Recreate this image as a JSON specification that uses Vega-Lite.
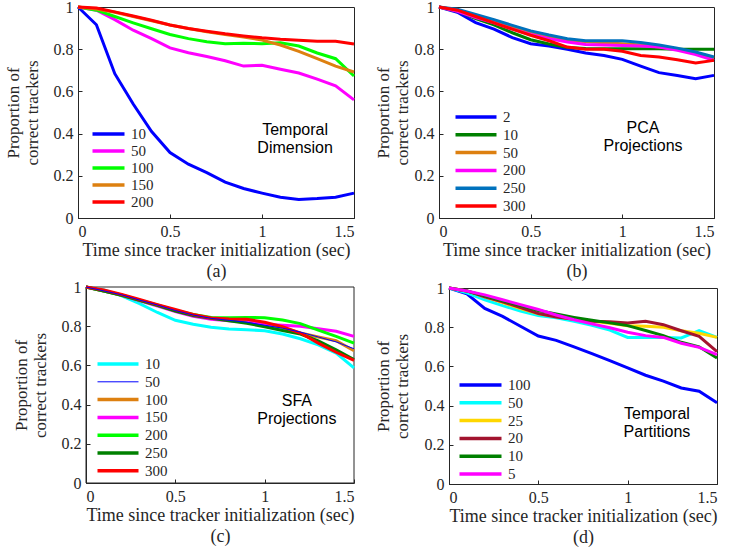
{
  "$schema": "https://vega.github.io/schema/vega-lite/v6.json",
  "padding": {"left": 3, "top": -2, "right": 5, "bottom": 5},
  "columns": 2,
  "align": "none",
  "spacing": {"row": -2, "column": 12},
  "resolve": {"scale": {"color": "independent"}, "legend": {"color": "independent"}},
  "config": {
    "font": "Liberation Serif",
    "view": {"stroke": "#262626", "strokeWidth": 1},
    "axis": {
      "grid": false,
      "labelOverlap": false,
      "labelSeparation": 0,
      "domainColor": "#262626",
      "tickColor": "#262626",
      "tickSize": -4,
      "labelPadding": 9,
      "labelFont": "Liberation Serif",
      "labelFontSize": 16,
      "labelColor": "#262626",
      "titleFont": "Liberation Serif",
      "titleFontSize": 17,
      "titleFontWeight": "normal",
      "titleColor": "#262626"
    },
    "axisX": {"titleFontSize": 18, "titleLineHeight": 21},
    "legend": {
      "orient": "none",
      "title": null,
      "symbolStrokeWidth": 3.5,
      "symbolSize": 100,
      "labelFont": "Liberation Serif",
      "labelFontSize": 15,
      "labelColor": "#262626",
      "padding": 0
    }
  },
  "datasets": {
    "a": [
      {"s":"10","t":0,"v":1},{"s":"10","t":0.1,"v":0.916},{"s":"10","t":0.2,"v":0.684},{"s":"10","t":0.3,"v":0.54},{"s":"10","t":0.4,"v":0.41},{"s":"10","t":0.5,"v":0.31},{"s":"10","t":0.6,"v":0.255},{"s":"10","t":0.7,"v":0.215},{"s":"10","t":0.8,"v":0.17},{"s":"10","t":0.9,"v":0.14},{"s":"10","t":1.0,"v":0.118},{"s":"10","t":1.1,"v":0.098},{"s":"10","t":1.2,"v":0.088},{"s":"10","t":1.3,"v":0.092},{"s":"10","t":1.4,"v":0.098},{"s":"10","t":1.5,"v":0.118},
      {"s":"50","t":0,"v":1},{"s":"50","t":0.1,"v":0.985},{"s":"50","t":0.2,"v":0.94},{"s":"50","t":0.3,"v":0.89},{"s":"50","t":0.4,"v":0.85},{"s":"50","t":0.5,"v":0.806},{"s":"50","t":0.6,"v":0.783},{"s":"50","t":0.7,"v":0.765},{"s":"50","t":0.8,"v":0.745},{"s":"50","t":0.9,"v":0.72},{"s":"50","t":1.0,"v":0.724},{"s":"50","t":1.1,"v":0.705},{"s":"50","t":1.2,"v":0.687},{"s":"50","t":1.3,"v":0.658},{"s":"50","t":1.4,"v":0.626},{"s":"50","t":1.5,"v":0.56},
      {"s":"100","t":0,"v":1},{"s":"100","t":0.1,"v":0.985},{"s":"100","t":0.2,"v":0.955},{"s":"100","t":0.3,"v":0.925},{"s":"100","t":0.4,"v":0.897},{"s":"100","t":0.5,"v":0.87},{"s":"100","t":0.6,"v":0.85},{"s":"100","t":0.7,"v":0.835},{"s":"100","t":0.8,"v":0.826},{"s":"100","t":0.9,"v":0.828},{"s":"100","t":1.0,"v":0.826},{"s":"100","t":1.1,"v":0.83},{"s":"100","t":1.2,"v":0.815},{"s":"100","t":1.3,"v":0.782},{"s":"100","t":1.4,"v":0.755},{"s":"100","t":1.5,"v":0.673},
      {"s":"150","t":0,"v":1},{"s":"150","t":0.1,"v":0.99},{"s":"150","t":0.2,"v":0.975},{"s":"150","t":0.3,"v":0.955},{"s":"150","t":0.4,"v":0.935},{"s":"150","t":0.5,"v":0.915},{"s":"150","t":0.6,"v":0.898},{"s":"150","t":0.7,"v":0.883},{"s":"150","t":0.8,"v":0.87},{"s":"150","t":0.9,"v":0.858},{"s":"150","t":1.0,"v":0.843},{"s":"150","t":1.1,"v":0.82},{"s":"150","t":1.2,"v":0.79},{"s":"150","t":1.3,"v":0.755},{"s":"150","t":1.4,"v":0.72},{"s":"150","t":1.5,"v":0.692},
      {"s":"200","t":0,"v":1},{"s":"200","t":0.1,"v":0.995},{"s":"200","t":0.2,"v":0.977},{"s":"200","t":0.3,"v":0.957},{"s":"200","t":0.4,"v":0.937},{"s":"200","t":0.5,"v":0.915},{"s":"200","t":0.6,"v":0.898},{"s":"200","t":0.7,"v":0.885},{"s":"200","t":0.8,"v":0.873},{"s":"200","t":0.9,"v":0.863},{"s":"200","t":1.0,"v":0.854},{"s":"200","t":1.1,"v":0.847},{"s":"200","t":1.2,"v":0.843},{"s":"200","t":1.3,"v":0.838},{"s":"200","t":1.4,"v":0.838},{"s":"200","t":1.5,"v":0.825}
    ],
    "b": [
      {"s":"2","t":0,"v":1},{"s":"2","t":0.1,"v":0.975},{"s":"2","t":0.2,"v":0.926},{"s":"2","t":0.3,"v":0.895},{"s":"2","t":0.4,"v":0.855},{"s":"2","t":0.5,"v":0.826},{"s":"2","t":0.6,"v":0.815},{"s":"2","t":0.7,"v":0.8},{"s":"2","t":0.8,"v":0.782},{"s":"2","t":0.9,"v":0.77},{"s":"2","t":1.0,"v":0.752},{"s":"2","t":1.1,"v":0.72},{"s":"2","t":1.2,"v":0.689},{"s":"2","t":1.3,"v":0.675},{"s":"2","t":1.4,"v":0.66},{"s":"2","t":1.5,"v":0.676},
      {"s":"10","t":0,"v":1},{"s":"10","t":0.1,"v":0.98},{"s":"10","t":0.2,"v":0.945},{"s":"10","t":0.3,"v":0.915},{"s":"10","t":0.4,"v":0.878},{"s":"10","t":0.5,"v":0.845},{"s":"10","t":0.6,"v":0.825},{"s":"10","t":0.7,"v":0.808},{"s":"10","t":0.8,"v":0.803},{"s":"10","t":0.9,"v":0.802},{"s":"10","t":1.0,"v":0.802},{"s":"10","t":1.1,"v":0.802},{"s":"10","t":1.2,"v":0.802},{"s":"10","t":1.3,"v":0.8},{"s":"10","t":1.4,"v":0.8},{"s":"10","t":1.5,"v":0.8},
      {"s":"50","t":0,"v":1},{"s":"50","t":0.1,"v":0.985},{"s":"50","t":0.2,"v":0.955},{"s":"50","t":0.3,"v":0.93},{"s":"50","t":0.4,"v":0.905},{"s":"50","t":0.5,"v":0.878},{"s":"50","t":0.6,"v":0.858},{"s":"50","t":0.7,"v":0.843},{"s":"50","t":0.8,"v":0.835},{"s":"50","t":0.9,"v":0.83},{"s":"50","t":1.0,"v":0.826},{"s":"50","t":1.1,"v":0.82},{"s":"50","t":1.2,"v":0.81},{"s":"50","t":1.3,"v":0.8},{"s":"50","t":1.4,"v":0.785},{"s":"50","t":1.5,"v":0.757},
      {"s":"200","t":0,"v":1},{"s":"200","t":0.1,"v":0.98},{"s":"200","t":0.2,"v":0.95},{"s":"200","t":0.3,"v":0.925},{"s":"200","t":0.4,"v":0.895},{"s":"200","t":0.5,"v":0.87},{"s":"200","t":0.6,"v":0.85},{"s":"200","t":0.7,"v":0.834},{"s":"200","t":0.8,"v":0.822},{"s":"200","t":0.9,"v":0.82},{"s":"200","t":1.0,"v":0.818},{"s":"200","t":1.1,"v":0.815},{"s":"200","t":1.2,"v":0.81},{"s":"200","t":1.3,"v":0.795},{"s":"200","t":1.4,"v":0.775},{"s":"200","t":1.5,"v":0.747},
      {"s":"250","t":0,"v":1},{"s":"250","t":0.1,"v":0.99},{"s":"250","t":0.2,"v":0.965},{"s":"250","t":0.3,"v":0.94},{"s":"250","t":0.4,"v":0.913},{"s":"250","t":0.5,"v":0.887},{"s":"250","t":0.6,"v":0.867},{"s":"250","t":0.7,"v":0.85},{"s":"250","t":0.8,"v":0.84},{"s":"250","t":0.9,"v":0.84},{"s":"250","t":1.0,"v":0.84},{"s":"250","t":1.1,"v":0.832},{"s":"250","t":1.2,"v":0.82},{"s":"250","t":1.3,"v":0.805},{"s":"250","t":1.4,"v":0.787},{"s":"250","t":1.5,"v":0.763},
      {"s":"300","t":0,"v":1},{"s":"300","t":0.1,"v":0.985},{"s":"300","t":0.2,"v":0.955},{"s":"300","t":0.3,"v":0.925},{"s":"300","t":0.4,"v":0.895},{"s":"300","t":0.5,"v":0.866},{"s":"300","t":0.6,"v":0.84},{"s":"300","t":0.7,"v":0.81},{"s":"300","t":0.8,"v":0.8},{"s":"300","t":0.9,"v":0.8},{"s":"300","t":1.0,"v":0.79},{"s":"300","t":1.1,"v":0.77},{"s":"300","t":1.2,"v":0.763},{"s":"300","t":1.3,"v":0.75},{"s":"300","t":1.4,"v":0.735},{"s":"300","t":1.5,"v":0.747}
    ],
    "c": [
      {"s":"10","t":0,"v":1},{"s":"10","t":0.1,"v":0.985},{"s":"10","t":0.2,"v":0.955},{"s":"10","t":0.3,"v":0.915},{"s":"10","t":0.4,"v":0.87},{"s":"10","t":0.5,"v":0.83},{"s":"10","t":0.6,"v":0.81},{"s":"10","t":0.7,"v":0.795},{"s":"10","t":0.8,"v":0.786},{"s":"10","t":0.9,"v":0.782},{"s":"10","t":1.0,"v":0.777},{"s":"10","t":1.1,"v":0.76},{"s":"10","t":1.2,"v":0.736},{"s":"10","t":1.3,"v":0.705},{"s":"10","t":1.4,"v":0.663},{"s":"10","t":1.5,"v":0.587},
      {"s":"50","t":0,"v":1},{"s":"50","t":0.1,"v":0.98},{"s":"50","t":0.2,"v":0.96},{"s":"50","t":0.3,"v":0.933},{"s":"50","t":0.4,"v":0.908},{"s":"50","t":0.5,"v":0.88},{"s":"50","t":0.6,"v":0.857},{"s":"50","t":0.7,"v":0.84},{"s":"50","t":0.8,"v":0.83},{"s":"50","t":0.9,"v":0.82},{"s":"50","t":1.0,"v":0.805},{"s":"50","t":1.1,"v":0.79},{"s":"50","t":1.2,"v":0.77},{"s":"50","t":1.3,"v":0.745},{"s":"50","t":1.4,"v":0.72},{"s":"50","t":1.5,"v":0.685},
      {"s":"100","t":0,"v":1},{"s":"100","t":0.1,"v":0.98},{"s":"100","t":0.2,"v":0.96},{"s":"100","t":0.3,"v":0.933},{"s":"100","t":0.4,"v":0.908},{"s":"100","t":0.5,"v":0.88},{"s":"100","t":0.6,"v":0.857},{"s":"100","t":0.7,"v":0.84},{"s":"100","t":0.8,"v":0.832},{"s":"100","t":0.9,"v":0.825},{"s":"100","t":1.0,"v":0.81},{"s":"100","t":1.1,"v":0.792},{"s":"100","t":1.2,"v":0.765},{"s":"100","t":1.3,"v":0.745},{"s":"100","t":1.4,"v":0.726},{"s":"100","t":1.5,"v":0.675},
      {"s":"150","t":0,"v":1},{"s":"150","t":0.1,"v":0.98},{"s":"150","t":0.2,"v":0.958},{"s":"150","t":0.3,"v":0.93},{"s":"150","t":0.4,"v":0.903},{"s":"150","t":0.5,"v":0.875},{"s":"150","t":0.6,"v":0.85},{"s":"150","t":0.7,"v":0.835},{"s":"150","t":0.8,"v":0.828},{"s":"150","t":0.9,"v":0.82},{"s":"150","t":1.0,"v":0.81},{"s":"150","t":1.1,"v":0.805},{"s":"150","t":1.2,"v":0.8},{"s":"150","t":1.3,"v":0.787},{"s":"150","t":1.4,"v":0.774},{"s":"150","t":1.5,"v":0.748},
      {"s":"200","t":0,"v":1},{"s":"200","t":0.1,"v":0.98},{"s":"200","t":0.2,"v":0.958},{"s":"200","t":0.3,"v":0.932},{"s":"200","t":0.4,"v":0.907},{"s":"200","t":0.5,"v":0.88},{"s":"200","t":0.6,"v":0.86},{"s":"200","t":0.7,"v":0.845},{"s":"200","t":0.8,"v":0.843},{"s":"200","t":0.9,"v":0.845},{"s":"200","t":1.0,"v":0.843},{"s":"200","t":1.1,"v":0.832},{"s":"200","t":1.2,"v":0.813},{"s":"200","t":1.3,"v":0.78},{"s":"200","t":1.4,"v":0.748},{"s":"200","t":1.5,"v":0.714},
      {"s":"250","t":0,"v":1},{"s":"250","t":0.1,"v":0.98},{"s":"250","t":0.2,"v":0.958},{"s":"250","t":0.3,"v":0.932},{"s":"250","t":0.4,"v":0.906},{"s":"250","t":0.5,"v":0.877},{"s":"250","t":0.6,"v":0.855},{"s":"250","t":0.7,"v":0.84},{"s":"250","t":0.8,"v":0.828},{"s":"250","t":0.9,"v":0.815},{"s":"250","t":1.0,"v":0.797},{"s":"250","t":1.1,"v":0.778},{"s":"250","t":1.2,"v":0.76},{"s":"250","t":1.3,"v":0.725},{"s":"250","t":1.4,"v":0.68},{"s":"250","t":1.5,"v":0.63},
      {"s":"300","t":0,"v":1},{"s":"300","t":0.1,"v":0.985},{"s":"300","t":0.2,"v":0.962},{"s":"300","t":0.3,"v":0.936},{"s":"300","t":0.4,"v":0.91},{"s":"300","t":0.5,"v":0.885},{"s":"300","t":0.6,"v":0.86},{"s":"300","t":0.7,"v":0.842},{"s":"300","t":0.8,"v":0.837},{"s":"300","t":0.9,"v":0.835},{"s":"300","t":1.0,"v":0.82},{"s":"300","t":1.1,"v":0.797},{"s":"300","t":1.2,"v":0.765},{"s":"300","t":1.3,"v":0.714},{"s":"300","t":1.4,"v":0.667},{"s":"300","t":1.5,"v":0.626}
    ],
    "d": [
      {"s":"100","t":0,"v":1},{"s":"100","t":0.1,"v":0.97},{"s":"100","t":0.2,"v":0.896},{"s":"100","t":0.3,"v":0.855},{"s":"100","t":0.4,"v":0.805},{"s":"100","t":0.5,"v":0.755},{"s":"100","t":0.6,"v":0.733},{"s":"100","t":0.7,"v":0.7},{"s":"100","t":0.8,"v":0.665},{"s":"100","t":0.9,"v":0.63},{"s":"100","t":1.0,"v":0.592},{"s":"100","t":1.1,"v":0.555},{"s":"100","t":1.2,"v":0.525},{"s":"100","t":1.3,"v":0.49},{"s":"100","t":1.4,"v":0.473},{"s":"100","t":1.5,"v":0.415},
      {"s":"50","t":0,"v":1},{"s":"50","t":0.1,"v":0.975},{"s":"50","t":0.2,"v":0.94},{"s":"50","t":0.3,"v":0.91},{"s":"50","t":0.4,"v":0.883},{"s":"50","t":0.5,"v":0.859},{"s":"50","t":0.6,"v":0.848},{"s":"50","t":0.7,"v":0.83},{"s":"50","t":0.8,"v":0.81},{"s":"50","t":0.9,"v":0.785},{"s":"50","t":1.0,"v":0.748},{"s":"50","t":1.1,"v":0.748},{"s":"50","t":1.2,"v":0.748},{"s":"50","t":1.3,"v":0.745},{"s":"50","t":1.4,"v":0.782},{"s":"50","t":1.5,"v":0.748},
      {"s":"25","t":0,"v":1},{"s":"25","t":0.1,"v":0.985},{"s":"25","t":0.2,"v":0.955},{"s":"25","t":0.3,"v":0.925},{"s":"25","t":0.4,"v":0.895},{"s":"25","t":0.5,"v":0.868},{"s":"25","t":0.6,"v":0.853},{"s":"25","t":0.7,"v":0.84},{"s":"25","t":0.8,"v":0.83},{"s":"25","t":0.9,"v":0.82},{"s":"25","t":1.0,"v":0.808},{"s":"25","t":1.1,"v":0.805},{"s":"25","t":1.2,"v":0.8},{"s":"25","t":1.3,"v":0.782},{"s":"25","t":1.4,"v":0.769},{"s":"25","t":1.5,"v":0.748},
      {"s":"20","t":0,"v":1},{"s":"20","t":0.1,"v":0.985},{"s":"20","t":0.2,"v":0.955},{"s":"20","t":0.3,"v":0.93},{"s":"20","t":0.4,"v":0.9},{"s":"20","t":0.5,"v":0.87},{"s":"20","t":0.6,"v":0.852},{"s":"20","t":0.7,"v":0.84},{"s":"20","t":0.8,"v":0.83},{"s":"20","t":0.9,"v":0.828},{"s":"20","t":1.0,"v":0.822},{"s":"20","t":1.1,"v":0.83},{"s":"20","t":1.2,"v":0.813},{"s":"20","t":1.3,"v":0.782},{"s":"20","t":1.4,"v":0.753},{"s":"20","t":1.5,"v":0.675},
      {"s":"10","t":0,"v":1},{"s":"10","t":0.1,"v":0.985},{"s":"10","t":0.2,"v":0.96},{"s":"10","t":0.3,"v":0.935},{"s":"10","t":0.4,"v":0.91},{"s":"10","t":0.5,"v":0.885},{"s":"10","t":0.6,"v":0.867},{"s":"10","t":0.7,"v":0.85},{"s":"10","t":0.8,"v":0.835},{"s":"10","t":0.9,"v":0.822},{"s":"10","t":1.0,"v":0.808},{"s":"10","t":1.1,"v":0.783},{"s":"10","t":1.2,"v":0.757},{"s":"10","t":1.3,"v":0.723},{"s":"10","t":1.4,"v":0.7},{"s":"10","t":1.5,"v":0.643},
      {"s":"5","t":0,"v":1},{"s":"5","t":0.1,"v":0.985},{"s":"5","t":0.2,"v":0.965},{"s":"5","t":0.3,"v":0.94},{"s":"5","t":0.4,"v":0.915},{"s":"5","t":0.5,"v":0.89},{"s":"5","t":0.6,"v":0.862},{"s":"5","t":0.7,"v":0.838},{"s":"5","t":0.8,"v":0.817},{"s":"5","t":0.9,"v":0.797},{"s":"5","t":1.0,"v":0.774},{"s":"5","t":1.1,"v":0.757},{"s":"5","t":1.2,"v":0.748},{"s":"5","t":1.3,"v":0.718},{"s":"5","t":1.4,"v":0.697},{"s":"5","t":1.5,"v":0.66}
    ]
  },
  "concat": [
    {
      "width": 276, "height": 211,
      "layer": [
        {
          "data": {"name": "a"},
          "mark": {"type": "line", "strokeWidth": 3},
          "encoding": {
            "x": {"field": "t", "type": "quantitative", "scale": {"domain": [0, 1.5], "nice": false}, "axis": {"values": [0, 0.5, 1, 1.5], "tickCount": 10, "format": "~g", "labelOverlap": false, "title": ["Time since tracker initialization (sec)", "(a)"], "titlePadding": 2}},
            "y": {"field": "v", "type": "quantitative", "scale": {"domain": [0, 1], "nice": false}, "axis": {"values": [0, 0.2, 0.4, 0.6, 0.8, 1], "tickCount": 10, "format": "~g", "labelOverlap": false, "title": ["Proportion of", "correct trackers"], "titlePadding": 12}},
            "color": {"field": "s", "type": "nominal", "scale": {"domain": ["10", "50", "100", "150", "200"], "range": ["#0000ff", "#ff00ff", "#00ff00", "#dd8010", "#ff0000"]}, "legend": {"legendX": 23, "legendY": 119.5, "symbolType": "M-3.2,0H3.2", "labelOffset": 15, "rowPadding": 1}}
          }
        },
        {
          "data": {"values": [{}]},
          "mark": {"type": "text", "text": ["Temporal", "Dimension"], "font": "Liberation Sans", "fontSize": 16, "color": "#000000", "lineHeight": 18},
          "encoding": {"x": {"datum": 1.18}, "y": {"datum": 0.415}}
        }
      ]
    },
    {
      "width": 275, "height": 211,
      "layer": [
        {
          "data": {"name": "b"},
          "mark": {"type": "line", "strokeWidth": 3},
          "encoding": {
            "x": {"field": "t", "type": "quantitative", "scale": {"domain": [0, 1.5], "nice": false}, "axis": {"values": [0, 0.5, 1, 1.5], "tickCount": 10, "format": "~g", "labelOverlap": false, "title": ["Time since tracker initialization (sec)", "(b)"], "titlePadding": 2}},
            "y": {"field": "v", "type": "quantitative", "scale": {"domain": [0, 1], "nice": false}, "axis": {"values": [0, 0.2, 0.4, 0.6, 0.8, 1], "tickCount": 10, "format": "~g", "labelOverlap": false, "title": ["Proportion of", "correct trackers"], "titlePadding": 3}},
            "color": {"field": "s", "type": "nominal", "scale": {"domain": ["2", "10", "50", "200", "250", "300"], "range": ["#0000ff", "#008000", "#dd8010", "#ff00ff", "#0072bd", "#ff0000"]}, "legend": {"legendX": 29.5, "legendY": 102.5, "symbolType": "M-4.1,0H4.1", "labelOffset": 19.5, "rowPadding": 1.8}}
          }
        },
        {
          "data": {"values": [{}]},
          "mark": {"type": "text", "text": ["PCA", "Projections"], "font": "Liberation Sans", "fontSize": 16, "color": "#000000", "lineHeight": 18},
          "encoding": {"x": {"datum": 1.113}, "y": {"datum": 0.427}}
        }
      ]
    },
    {
      "width": 276, "height": 196,
      "view": {"stroke": null},
      "layer": [
        {
          "data": {"values": [{}]},
          "mark": {"type": "rect", "filled": false, "stroke": "#262626", "strokeWidth": 1},
          "encoding": {"x": {"datum": 0}, "x2": {"datum": 1.5}, "y": {"datum": 0}, "y2": {"datum": 1}}
        },
        {
          "data": {"name": "c"},
          "transform": [{"filter": "datum.s !== '50'"}],
          "mark": {"type": "line", "strokeWidth": 3},
          "encoding": {
            "x": {"field": "t", "type": "quantitative", "scale": {"domain": [0, 1.5], "nice": false, "range": [8, 276]}, "axis": {"values": [0, 0.5, 1, 1.5], "tickCount": 10, "format": "~g", "labelOverlap": false, "title": ["Time since tracker initialization (sec)", "(c)"], "titlePadding": 2}},
            "y": {"field": "v", "type": "quantitative", "scale": {"domain": [0, 1], "nice": false}, "axis": {"values": [0, 0.2, 0.4, 0.6, 0.8, 1], "tickCount": 10, "format": "~g", "labelOverlap": false, "offset": -8, "title": ["Proportion of", "correct trackers"], "titlePadding": 12}},
            "color": {"field": "s", "type": "nominal", "scale": {"domain": ["10", "50", "100", "150", "200", "250", "300"], "range": ["#00ffff", "#0000ff", "#dd8010", "#ff00ff", "#00ff00", "#008000", "#ff0000"]}, "legend": {"legendX": 32.5, "legendY": 69.5, "symbolType": "M-4.1,0H4.1", "labelOffset": 19.5, "rowPadding": 1.8, "symbolStrokeWidth": 3.5, "encode": {"symbols": {"update": {"strokeWidth": {"signal": "datum.value === '50' ? 1 : 3.5"}}}}}}
          }
        },
        {
          "data": {"name": "c"},
          "transform": [{"filter": "datum.s === '50'"}],
          "mark": {"type": "line", "strokeWidth": 1},
          "encoding": {
            "x": {"field": "t", "type": "quantitative"},
            "y": {"field": "v", "type": "quantitative"},
            "color": {"field": "s", "type": "nominal"}
          }
        },
        {
          "data": {"values": [{}]},
          "mark": {"type": "text", "text": ["SFA", "Projections"], "font": "Liberation Sans", "fontSize": 16, "color": "#000000", "lineHeight": 18},
          "encoding": {"x": {"datum": 1.18}, "y": {"datum": 0.418}}
        }
      ]
    },
    {
      "width": 268, "height": 196,
      "layer": [
        {
          "data": {"name": "d"},
          "mark": {"type": "line", "strokeWidth": 3},
          "encoding": {
            "x": {"field": "t", "type": "quantitative", "scale": {"domain": [0, 1.5], "nice": false}, "axis": {"values": [0, 0.5, 1, 1.5], "tickCount": 10, "format": "~g", "labelOverlap": false, "title": ["Time since tracker initialization (sec)", "(d)"], "titlePadding": 2}},
            "y": {"field": "v", "type": "quantitative", "scale": {"domain": [0, 1], "nice": false}, "axis": {"values": [0, 0.2, 0.4, 0.6, 0.8, 1], "tickCount": 10, "format": "~g", "labelOverlap": false, "title": ["Proportion of", "correct trackers"], "titlePadding": 13}},
            "color": {"field": "s", "type": "nominal", "scale": {"domain": ["100", "50", "25", "20", "10", "5"], "range": ["#0000ff", "#00ffff", "#ffd700", "#a2142f", "#008000", "#ff00ff"]}, "legend": {"legendX": 24, "legendY": 89.5, "symbolType": "M-4.2,0H4.2", "labelOffset": 20, "rowPadding": 1.8}}
          }
        },
        {
          "data": {"values": [{}]},
          "mark": {"type": "text", "text": ["Temporal", "Partitions"], "font": "Liberation Sans", "fontSize": 16, "color": "#000000", "lineHeight": 18},
          "encoding": {"x": {"datum": 1.164}, "y": {"datum": 0.357}}
        }
      ]
    }
  ]
}
